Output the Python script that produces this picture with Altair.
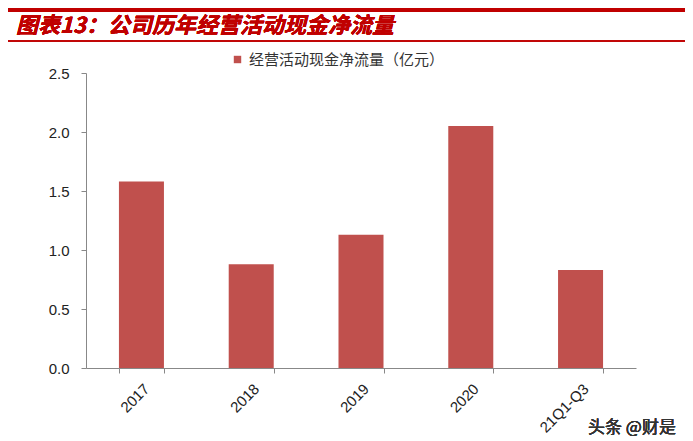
import altair as alt
import pandas as pd

# values
categories = ['2017', '2018', '2019', '2020', '21Q1-Q3']
cash_flow = [1.58, 0.88, 1.13, 2.05, 0.83]
series_name = '经营活动现金净流量（亿元）'
title_text = '图表13：公司历年经营活动现金净流量'
watermark = '头条 @财是'

df = pd.DataFrame({'年份': categories, '现金净流量': cash_flow, '系列': series_name})

font = 'Liberation Sans'
cjk = 'Noto Sans CJK SC'
red = '#C0504D'

bars = alt.Chart(df).mark_bar(color=red).encode(
    x=alt.X('年份:N', sort=categories, title=None,
            scale=alt.Scale(paddingInner=0.59, paddingOuter=0.3),
            axis=alt.Axis(labelAngle=-45, labelAlign='right', labelBaseline='top',
                          labelFont=font, labelFontSize=15, labelColor='#222',
                          labelPadding=8, tickBand='extent', tickSize=5,
                          tickColor='#888', domainColor='#888')),
    y=alt.Y('现金净流量:Q', title=None,
            scale=alt.Scale(domain=[0, 2.5], nice=False),
            axis=alt.Axis(values=[0, 0.5, 1.0, 1.5, 2.0, 2.5], format='.1f',
                          labelFont=font, labelFontSize=15, labelColor='#222',
                          labelPadding=12, tickSize=5, tickColor='#888',
                          domainColor='#888', grid=False)),
    color=alt.Color('系列:N', scale=alt.Scale(range=[red]),
                    legend=alt.Legend(orient='none', legendX=144, legendY=-21,
                                      title=None, symbolType='square', symbolSize=55,
                                      labelFont=cjk, labelFontSize=15, labelLimit=0,
                                      labelColor='#333'))
)

title = alt.Chart(df).mark_text(
    text=title_text, font=cjk, fontSize=22, fontWeight='bold', fontStyle='italic',
    color='#C00000', align='left', baseline='alphabetic'
).encode(x=alt.value(-70), y=alt.value(-40))

top_band = alt.Chart(df).mark_rule(color='#C00000', strokeWidth=4).encode(
    x=alt.value(-80), x2=alt.value(610), y=alt.value(-63))

title_line = alt.Chart(df).mark_rule(color='#C00000', strokeWidth=1).encode(
    x=alt.value(-80), x2=alt.value(610), y=alt.value(-32))

mark = alt.Chart(df).mark_text(
    text=watermark, font=cjk, fontSize=17, color='#333', align='left', baseline='middle'
).encode(x=alt.value(502), y=alt.value(355))

chart = alt.layer(top_band, title_line, title, bars, mark).properties(
    width=550, height=295,
    autosize=alt.AutoSizeParams(type='none'),
    padding={'left': 78, 'top': 65, 'right': 49, 'bottom': 73}
).configure_view(stroke=None)

chart.save('out.html', embed_options={'renderer': 'svg', 'actions': False})
